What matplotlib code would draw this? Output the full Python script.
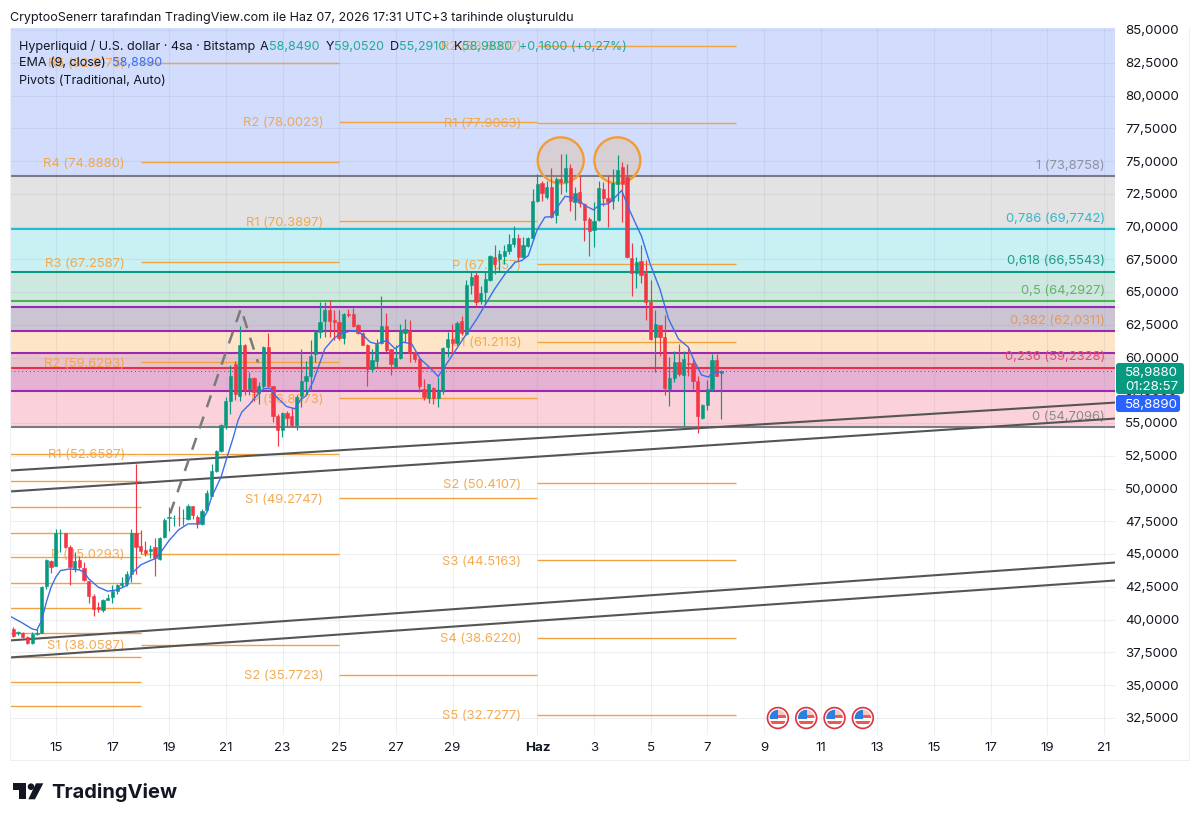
# -*- coding: utf-8 -*-
import matplotlib
matplotlib.use('Agg')
import matplotlib.pyplot as plt
from matplotlib.patches import Rectangle, Ellipse, Circle, Polygon, FancyBboxPatch
from matplotlib.lines import Line2D
from matplotlib.transforms import Affine2D

plt.rcParams['font.family'] = ['Inter', 'DejaVu Sans']

# candles, 4 hour bars
opens = [39.28, 38.95, 39.0, 38.65, 38.19, 38.9, 39.0, 42.52, 44.45, 44.12,
         46.59, 46.59, 45.57, 43.92, 44.55, 43.92, 42.92, 41.83, 40.94, 40.76,
         41.52, 41.7, 42.21, 42.62, 42.72, 43.48, 46.61, 45.59, 45.32, 45.26,
         45.57, 44.63, 46.28, 47.76, 47.73, 47.76, 47.71, 47.68, 48.65, 47.86,
         47.27, 48.37, 49.46, 51.32, 52.9, 54.81, 56.67, 59.52, 57.05, 60.97,
         57.61, 58.45, 57.28, 57.79, 60.79, 57.79, 55.57, 54.43, 55.75, 55.5,
         54.88, 57.05, 58.17, 58.57, 60.28, 61.93, 62.77, 63.59, 62.88, 62.7,
         61.5, 63.33, 63.33, 62.49, 61.86, 60.99, 59.14, 59.77, 61.09, 62.39,
         60.66, 59.31, 59.97, 61.88, 62.06, 60.41, 59.9, 57.61, 56.92, 57.68,
         56.92, 57.43, 60.79, 61.42, 61.09, 62.77, 61.81, 65.57, 66.26, 64.3,
         64.99, 65.88, 67.66, 67.53, 67.78, 68.1, 68.63, 69.13, 67.66, 68.5,
         69.13, 71.91, 73.31, 72.29, 73.05, 70.84, 73.64, 73.38, 74.45, 71.86,
         72.62, 71.68, 70.58, 69.74, 70.46, 72.87, 72.16, 71.93, 73.26, 74.53,
         73.76, 67.6, 66.44, 67.4, 66.44, 64.22, 61.55, 62.49, 61.6, 57.61,
         58.42, 59.69, 58.7, 59.59, 59.57, 58.19, 55.39, 56.41, 57.56, 59.82,
         58.849]
highs = [39.41, 39.15, 39.08, 38.77, 39.03, 39.28, 42.59, 44.63, 44.55, 46.92,
         46.92, 46.61, 45.65, 45.14, 44.81, 44.37, 42.97, 41.91, 41.32, 41.58,
         41.96, 42.67, 42.72, 43.28, 43.74, 46.92, 51.88, 46.84, 45.98, 45.65,
         46.23, 46.28, 47.76, 48.62, 48.01, 48.65, 48.45, 48.83, 48.7, 47.94,
         48.45, 49.9, 51.88, 52.95, 54.94, 56.97, 59.39, 59.72, 62.44, 61.0,
         58.88, 58.5, 58.12, 60.84, 61.86, 57.79, 55.65, 55.83, 55.95, 56.2,
         57.1, 60.66, 59.77, 61.35, 62.06, 64.22, 64.22, 64.4, 63.59, 63.59,
         63.38, 63.71, 63.77, 62.57, 61.93, 61.04, 60.66, 61.42, 64.66, 63.41,
         60.66, 60.92, 62.52, 62.95, 62.9, 60.53, 59.97, 58.37, 57.99, 57.73,
         58.5, 60.79, 61.93, 62.57, 62.75, 63.2, 65.88, 66.51, 66.51, 65.49,
         66.51, 67.83, 68.55, 68.17, 68.55, 69.44, 70.02, 69.44, 69.23, 69.18,
         72.87, 73.97, 73.51, 73.51, 74.48, 73.76, 75.5, 75.55, 74.78, 73.0,
         73.84, 71.78, 70.71, 71.86, 73.51, 73.38, 73.89, 74.4, 75.42, 74.91,
         74.78, 68.73, 67.66, 68.62, 67.45, 65.88, 63.59, 62.49, 63.28, 60.02,
         60.48, 61.04, 60.48, 60.74, 59.9, 58.62, 56.46, 58.29, 60.23, 60.23,
         59.052]
lows = [38.7, 38.85, 38.6, 38.14, 38.14, 38.85, 38.95, 42.34, 43.53, 44.07,
        45.14, 45.47, 42.67, 43.61, 43.86, 42.97, 41.24, 40.3, 40.56, 40.56,
        41.5, 41.27, 41.91, 42.47, 42.59, 42.85, 43.48, 45.01, 44.81, 44.71,
        43.3, 44.55, 46.23, 46.79, 47.17, 47.12, 47.25, 47.63, 47.68, 46.99,
        47.22, 48.32, 49.41, 51.25, 52.77, 54.55, 55.65, 56.72, 56.67, 57.1,
        57.1, 56.67, 56.46, 57.68, 57.73, 55.06, 53.28, 53.92, 54.68, 54.76,
        54.43, 56.2, 57.1, 57.48, 59.64, 61.5, 61.55, 61.55, 61.35, 61.35,
        61.04, 63.08, 62.31, 61.81, 60.92, 57.79, 58.88, 59.21, 61.04, 60.41,
        58.7, 59.31, 59.9, 61.17, 59.64, 59.64, 57.35, 56.72, 56.51, 56.46,
        56.2, 57.23, 60.03, 60.28, 60.92, 61.68, 61.68, 64.86, 63.84, 64.09,
        64.09, 65.82, 66.39, 66.51, 67.15, 67.91, 68.42, 67.35, 67.6, 68.42,
        69.06, 71.86, 71.98, 72.11, 70.66, 70.25, 72.49, 72.62, 71.22, 70.46,
        71.47, 68.88, 67.73, 68.42, 70.4, 71.6, 70.0, 71.35, 71.98, 70.33,
        67.6, 64.68, 65.29, 65.67, 62.83, 61.37, 58.88, 60.15, 57.1, 56.33,
        58.11, 58.62, 54.8, 58.62, 57.61, 54.22, 55.32, 56.03, 57.48, 58.55,
        55.291]
closes = [38.77, 39.03, 38.7, 38.19, 38.9, 39.0, 42.47, 44.55, 44.04, 46.61,
          46.61, 45.57, 43.99, 44.5, 43.99, 43.02, 41.83, 40.81, 40.79, 41.52,
          41.65, 42.21, 42.67, 42.77, 43.48, 46.61, 45.57, 45.26, 45.09, 45.39,
          44.68, 46.23, 47.63, 47.81, 47.78, 47.71, 47.76, 48.7, 47.94, 47.3,
          48.32, 49.64, 51.3, 52.9, 54.81, 56.67, 58.55, 57.23, 60.97, 57.53,
          58.45, 57.35, 57.79, 60.79, 57.79, 55.5, 54.43, 55.75, 55.39, 54.81,
          57.02, 58.17, 58.57, 60.15, 61.93, 62.7, 63.64, 62.82, 62.7, 61.5,
          63.33, 63.28, 62.39, 61.86, 60.99, 59.14, 59.82, 61.04, 62.44, 60.59,
          59.47, 59.97, 62.06, 62.19, 60.33, 59.9, 57.79, 56.97, 57.94, 56.92,
          57.48, 60.71, 61.42, 61.09, 62.62, 61.86, 65.5, 66.13, 64.22, 64.94,
          66.0, 67.73, 67.1, 67.91, 68.1, 68.63, 69.13, 67.66, 68.55, 69.13,
          71.91, 73.26, 72.54, 73.05, 70.71, 73.59, 73.38, 74.45, 71.98, 72.57,
          71.78, 70.53, 69.69, 70.4, 72.95, 72.16, 71.86, 73.31, 74.35, 73.26,
          67.66, 66.44, 67.27, 66.33, 64.22, 61.42, 62.57, 61.6, 57.68, 58.42,
          59.69, 58.75, 59.85, 59.51, 58.19, 55.5, 56.41, 57.61, 59.82, 58.62,
          58.988]

# EMA line, read at these bar numbers
ema_bars = [-1, 0, 2, 4, 5, 6, 7, 8, 9, 10, 12, 14, 15, 16, 18, 20, 22, 24, 25, 27, 29, 30, 31, 33, 35, 37,
            39, 40, 41, 42, 43, 44, 45.2, 46.6, 47.6, 48.4, 50, 51.9, 53, 54.4, 55.8, 57.9, 59.7, 60.7, 62.1,
            63.6, 66, 67.8, 69.2, 71.3, 72.7, 74.2, 75.6, 77, 79.1, 80.9, 82.6, 84.4, 86.2, 88.3, 90, 91.1,
            93.2, 95.3, 96.8, 98.2, 100.3, 102, 104.2, 106.3, 107.7, 109.1, 110.9, 112.6, 114.1, 115.5,
            116.9, 118, 119.4, 121.1, 122.9, 124.3, 126, 127.5, 128.9, 130.4, 133.1, 134.9, 137, 138.8,
            140.9, 143, 144.4, 145.8, 147.3, 148.1, 150]
ema_vals = [40.3, 40.12, 39.72, 39.28, 39.2, 39.92, 41.32, 42.47, 43.23, 43.74, 43.86, 43.79, 43.61, 43.1,
            42.47, 42.16, 42.26, 42.59, 43.48, 44.17, 44.5, 44.63, 45.01, 46.03, 46.84, 47.3,
            47.3, 47.55, 48.19, 49.34, 50.1, 50.86, 52.3, 53.9, 55.19, 55.83, 56.41, 57.23, 57.61, 57.66, 56.97,
            56.26, 56.08, 56.72, 57.1, 58.24, 60.66, 61.42, 61.81, 62.01, 62.06, 61.68, 61.17, 61.04, 61.3,
            60.66, 61.17, 61.04, 59.9, 59.21, 58.55, 59.14, 60.28, 61.42, 62.19, 62.95, 64.22, 65.24, 66.39,
            67.27, 67.4, 67.78, 69.69, 70.71, 70.76, 71.6, 72.31, 72.24, 72.11, 71.6, 71.27, 71.68, 71.73,
            72.24, 72.75, 71.35, 69.24, 67.15, 65.2, 62.95, 61.42, 60.79, 59.64, 58.67, 58.5, 58.88, 58.889]

# fib levels
fib_vals = [73.8758, 69.7742, 66.5543, 64.2927, 62.0311, 59.2328, 54.7096]
fib_names = ['1', '0,786', '0,618', '0,5', '0,382', '0,236', '0']
fib_texts = ['73,8758', '69,7742', '66,5543', '64,2927', '62,0311', '59,2328', '54,7096']
fib_cols = ['#787b86', '#1fbcd2', '#089981', '#4caf50', '#9c27b0', '#e8304f', '#787b86']
fib_txt_cols = ['#8f93a3', '#30b8d0', '#1f9c86', '#66b06a', '#e6975c', '#e64a74', '#8a8a8a']
extra_vals = [63.84, 60.38, 57.48]  # purple lines between the fib levels
band_tops = [85.2, 73.8758, 69.7742, 66.5543, 63.84, 62.0311, 60.38, 59.2328, 57.48]
band_bots = [73.8758, 69.7742, 66.5543, 63.84, 62.0311, 60.38, 59.2328, 57.48, 54.7096]
band_cols = ['#d2dcfd', '#e3e3e3', '#c9f1f4', '#cfe8df', '#cbc5d3', '#fee5c8', '#e9c2cb', '#e5b2d3', '#fbd2d9']

# pivot groups: start day, end day, names and levels
piv_start = [-4, 3, 10, 17]
piv_end = [3, 10, 17, 24]
piv_vals = [[52.6, 50.6, 48.6, 46.6, 44.8, 42.8, 40.9, 39.0, 37.1, 35.2, 33.4],
            [82.5173, 74.888, 67.2587, 59.6293, 52.6587, 45.0293, 38.0587],
            [78.0023, 70.3897, 56.8873, 49.2747, 35.7723],
            [83.8007, 77.9063, 67.1057, 61.2113, 50.4107, 44.5163, 38.622, 32.7277]]
piv_names = [[],
             ['R5', 'R4', 'R3', 'R2', 'R1', 'P', 'S1'],
             ['R2', 'R1', 'P', 'S1', 'S2'],
             ['R2', 'R1', 'P', 'S1', 'S2', 'S3', 'S4', 'S5']]

# channel lines (day, price)
line_days = [-1.63, 37.4]
chan_1 = [51.37, 56.56]
chan_2 = [49.77, 55.34]
chan_3 = [38.4, 44.35]
chan_4 = [37.1, 42.98]
dash_days = [4.03, 6.53, 7.13]
dash_vals = [48.09, 63.74, 59.62]
circle_days = [17.82, 19.82]
circle_val = 75.05
event_days = [25.49, 26.49, 27.49, 28.49]

x_ticks = [0, 2, 4, 6, 8, 10, 12, 14, 17, 19, 21, 23, 25, 27, 29, 31, 33, 35, 37]
x_labels = ['15', '17', '19', '21', '23', '25', '27', '29', 'Haz', '3', '5', '7', '9', '11', '13', '15', '17', '19', '21']
y_ticks = [32.5 + 2.5 * i for i in range(22)]

GREEN = '#089981'
RED = '#f23645'
ORANGE = '#f3a240'
W, H = 1200, 823

fig = plt.figure(figsize=(W / 100, H / 100), dpi=100)
ax = fig.add_axes([10 / W, 1 - 735 / H, 1105 / W, 707 / H])
px = Affine2D().scale(1, -1).translate(0, H)  # picture pixels for the things round the chart

ax.set_xlim(-1.624, 37.39)
ax.set_ylim(60 - 377.5 / 13.1, 60 + 329.5 / 13.1)
for s in ax.spines.values():
    s.set_visible(False)

ax.set_axisbelow(True)
ax.set_xticks(x_ticks)
ax.set_xticklabels(x_labels, fontsize=9.6, color='#131722')
ax.get_xticklabels()[8].set_fontweight('bold')
ax.yaxis.tick_right()
ax.set_yticks(y_ticks)
ax.set_yticklabels([('%.4f' % v).replace('.', ',') for v in y_ticks], fontsize=9.6, color='#131722')
ax.tick_params(axis='both', length=0)
ax.tick_params(axis='x', pad=5)
ax.tick_params(axis='y', pad=7.2)
ax.grid(True, color='#7f8aa8', alpha=0.13, lw=0.8)

# fib zones and lines
for top, bot, col in zip(band_tops, band_bots, band_cols):
    ax.axhspan(bot, top, color=col, lw=0, zorder=0)
for v, col in zip(fib_vals, fib_cols):
    ax.axhline(v, color=col, lw=1.5, zorder=1.5)
for v in extra_vals:
    ax.axhline(v, color='#9c27b0', lw=1.5, zorder=1.5)
for v, name, txt, col in zip(fib_vals, fib_names, fib_texts, fib_txt_cols):
    ax.text(37.03, v + 0.32, '%s (%s)' % (name, txt), color=col, fontsize=9.4, ha='right', va='bottom', zorder=2)

# pivots
for start, end, vals, names in zip(piv_start, piv_end, piv_vals, piv_names):
    ax.hlines(vals, start, end, color=ORANGE, lw=1.0, zorder=2)
    for v, name in zip(vals, names):
        ax.text(start - 0.565, v, '%s (%.4f)' % (name, v), color=ORANGE, alpha=0.9, fontsize=9.4,
                ha='right', va='center_baseline', zorder=2)

# channel and dashed lines
for c in [chan_1, chan_2, chan_3, chan_4]:
    ax.plot(line_days, c, color='#555555', lw=1.5, zorder=3)
ax.plot(dash_days, dash_vals, color='#7a7a7a', lw=1.8, ls=(0, (5, 4)), zorder=3)

# circles on the two tops
for d in circle_days:
    ax.add_patch(Ellipse((d, circle_val), 46 / 28.32, 46 / 13.1, fc=(0.95, 0.62, 0.2, 0.2),
                         ec='#f39c33', lw=1.7, zorder=3))

# last price dots
ax.axhline(closes[-1], color='#a0305a', lw=0.7, ls=(0, (1, 3)), zorder=3)

# candles
bar_days = [-1.508 + i / 6 for i in range(len(closes))]
cols = [GREEN if c >= o else RED for o, c in zip(opens, closes)]
ax.vlines(bar_days, lows, highs, color=cols, lw=0.85, zorder=4)
body_bot = [min(o, c) for o, c in zip(opens, closes)]
body_h = [abs(o - c) for o, c in zip(opens, closes)]
ax.bar(bar_days, body_h, bottom=body_bot, width=0.115, color=cols, edgecolor=cols, lw=0.4, zorder=4.5)

# EMA
ax.plot([-1.508 + b / 6 for b in ema_bars], ema_vals, color='#3d6ee8', lw=1.0, zorder=5)

# frame round chart and axes
for xs, ys in [([10, 10], [28, 760]), ([10, 1189], [760, 760]), ([1189, 1189], [28, 760])]:
    fig.add_artist(Line2D(xs, ys, color='#eef0f5', lw=0.8, transform=px))

# header texts
def txt(x, y, s, col='#131722', size=9.05, **kw):
    fig.text(x, y, s, color=col, fontsize=size, va='center_baseline', transform=px, zorder=6, **kw)

teal = '#22ab94'
txt(10, 17, 'CryptooSenerr tarafından TradingView.com ile Haz 07, 2026 17:31 UTC+3 tarihinde oluşturuldu')
txt(19, 45, 'Hyperliquid / U.S. dollar · 4sa · Bitstamp')
txt(260, 45, 'A')
txt(268.5, 45, '58,8490', teal)
txt(326, 45, 'Y')
txt(334, 45, '59,0520', teal)
txt(390, 45, 'D')
txt(399, 45, '55,2910', teal)
txt(454, 45, 'K')
txt(462, 45, '58,9880', teal)
txt(519, 45, '+0,1600 (+0,27%)', teal)
txt(19, 62, 'EMA (9, close)')
txt(112, 62, '58,8890', '#3d6ee8')
txt(19, 80, 'Pivots (Traditional, Auto)')

# price tags on the axis
fig.add_artist(FancyBboxPatch((1117, 364), 66, 29, boxstyle='round,pad=0,rounding_size=2', fc=GREEN, ec=GREEN,
                              lw=1.5, transform=px, zorder=5))
fig.add_artist(FancyBboxPatch((1117, 396), 62, 15, boxstyle='round,pad=0,rounding_size=2', fc='#2962ff', ec='#2962ff',
                              lw=1.5, transform=px, zorder=5))
txt(1125, 371, '58,9880', 'white', 9.6)
txt(1125, 385, '01:28:57', 'white', 9.6)
txt(1125, 403, '58,8890', 'white', 9.6)

# US flags for the events
for d in event_days:
    cx = 56 + d * 28.32
    cy = 718
    disc = Circle((cx, cy), 10.4, fc='white', ec='#e0313f', lw=1.2, transform=px, zorder=5)
    fig.add_artist(disc)
    clip = Circle((cx, cy), 8.2, transform=px)
    parts = [Rectangle((cx - 9, cy - 9), 18, 9, fc='#f7c9c4', ec='none'),
             Rectangle((cx - 1, cy - 3), 10, 3, fc='#ee5a52', ec='none'),
             Rectangle((cx - 9, cy + 3), 18, 3, fc='#ee5a52', ec='none'),
             Rectangle((cx - 9, cy - 9), 9.5, 9.5, fc='#2f7fe0', ec='none')]
    for p in parts:
        p.set_transform(px)
        p.set_zorder(5.5)
        p.set_clip_path(clip)
        fig.add_artist(p)
        p.set_clip_path(clip)

# TradingView logo
logo = [Polygon([(12.7, 783.3), (26, 783.3), (26, 799.3), (19.3, 799.3), (19.3, 790), (12.7, 790)]),
        Polygon([(36, 783.3), (43.3, 783.3), (35, 799.3), (28.3, 799.3)]),
        Circle((31, 786.7), 3.3)]
for p in logo:
    p.set(fc='#131722', ec='none', transform=px)
    fig.add_artist(p)
fig.text(51.5, 792, 'TradingView', color='#131722', fontsize=14.5, fontweight='bold', va='center', transform=px)

fig.savefig('out.png', dpi=100)
